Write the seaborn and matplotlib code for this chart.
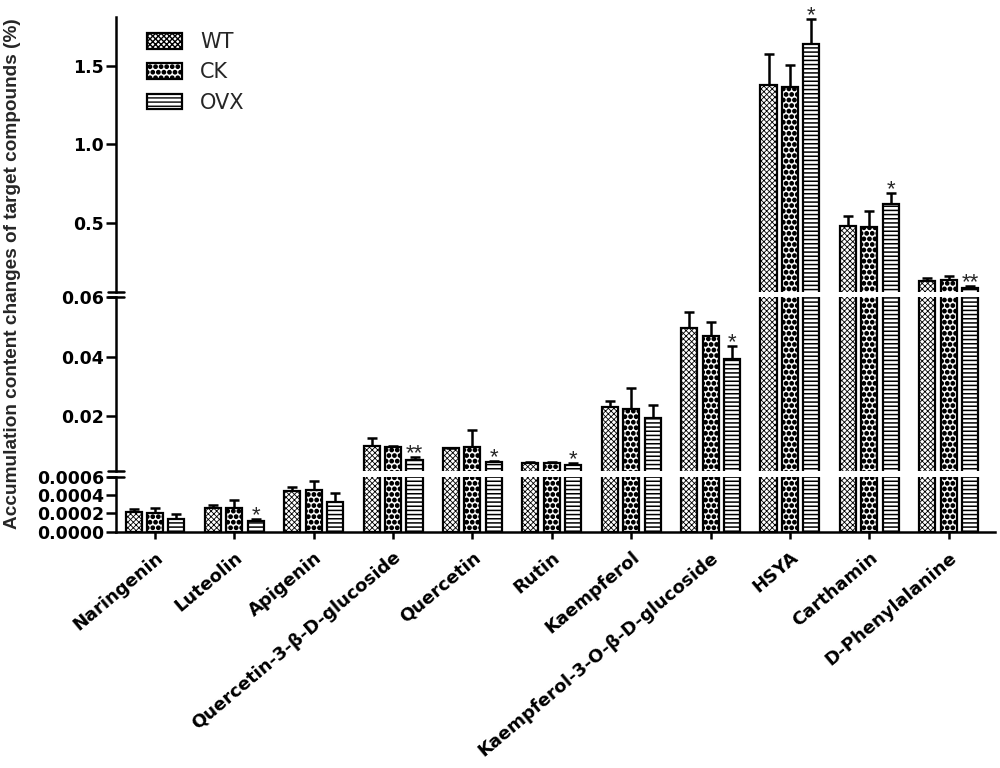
import numpy as np
import pandas as pd
import seaborn as sns
import matplotlib
import matplotlib.pyplot as plt
from matplotlib.patches import Patch
from matplotlib.lines import Line2D

# data (mean and upper error per group)
compounds = ["Naringenin", "Luteolin", "Apigenin", "Quercetin-3-β-D-glucoside",
             "Quercetin", "Rutin", "Kaempferol", "Kaempferol-3-O-β-D-glucoside",
             "HSYA", "Carthamin", "D-Phenylalanine"]
groups = ["WT", "CK", "OVX"]

wt_mean = [0.000212, 0.000262, 0.000447, 0.0100, 0.0091, 0.0043, 0.0232, 0.0496, 1.378, 0.481, 0.126]
wt_err = [0.000036, 0.000026, 0.000037, 0.0025, 0.0002, 0.0003, 0.0020, 0.0054, 0.197, 0.062, 0.021]
ck_mean = [0.000200, 0.000255, 0.000455, 0.0095, 0.0095, 0.0043, 0.0225, 0.0470, 1.367, 0.470, 0.133]
ck_err = [0.000062, 0.000091, 0.000101, 0.0004, 0.0058, 0.0003, 0.0069, 0.0048, 0.139, 0.105, 0.027]
ovx_mean = [0.000139, 0.000120, 0.000327, 0.0052, 0.0046, 0.0035, 0.0194, 0.0391, 1.639, 0.617, 0.083]
ovx_err = [0.000051, 0.000015, 0.000098, 0.0011, 0.0004, 0.0006, 0.0042, 0.0046, 0.156, 0.071, 0.011]
ovx_stars = ["", "*", "", "**", "*", "*", "", "*", "*", "*", "**"]

# y segments of the broken axis
limits = [(0.06, 1.81), (0.0015, 0.06), (0, 0.0006)]
yticks = [[0.5, 1.0, 1.5], [0.02, 0.04, 0.06], [0, 0.0002, 0.0004, 0.0006]]
yticklabels = [["0.5", "1.0", "1.5"], ["0.02", "0.04", "0.06"],
               ["0.0000", "0.0002", "0.0004", "0.0006"]]

sns.set_theme(style="ticks")
plt.rcParams["font.family"] = ["DejaVu Sans"]
plt.rcParams["hatch.color"] = "black"
# bigger filled dots so '.' looks like the checker fill
matplotlib.hatch.SmallFilledCircles.size = 0.3

means = {"WT": wt_mean, "CK": ck_mean, "OVX": ovx_mean}
errs = {"WT": wt_err, "CK": ck_err, "OVX": ovx_err}
hatches = {"WT": "xxxxxx", "CK": "...", "OVX": "----"}
hatch_lw = {"WT": 0.6, "CK": 1.0, "OVX": 1.1}

df = pd.DataFrame({
    "compound": compounds * 3,
    "group": np.repeat(groups, len(compounds)),
    "value": wt_mean + ck_mean + ovx_mean,
})


def style_patch(p, g):
    p.set_hatch(hatches[g])
    if hasattr(p, "set_hatch_linewidth"):
        p.set_hatch_linewidth(hatch_lw[g])


fig = plt.figure(figsize=(10, 7.68), dpi=100)
x0, w = 0.1157, 0.879
ax_top = fig.add_axes([x0, 0.6202, w, 0.3577])
ax_mid = fig.add_axes([x0, 0.3867, w, 0.2262])
ax_bot = fig.add_axes([x0, 0.3077, w, 0.0716])
axes = [ax_top, ax_mid, ax_bot]

for i, ax in enumerate(axes):
    lo, hi = limits[i]
    sns.barplot(data=df, x="compound", y="value", hue="group", order=compounds,
                hue_order=groups, palette=["white"] * 3, saturation=1, width=0.81,
                gap=0.25, errorbar=None, edgecolor="black", linewidth=1.6,
                legend=False, ax=ax)
    for cont, g in zip(ax.containers, groups):
        xs = [b.get_x() + b.get_width() / 2 for b in cont]
        for b in cont:
            style_patch(b, g)
            # bars that end below this segment would leave an edge line at the break
            if b.get_height() < lo:
                b.set_visible(False)
        m = np.array(means[g])
        e = np.array(errs[g])
        # skip error bars that end below this segment
        m_seg = np.where(m + e > lo, m, np.nan)
        eb = ax.errorbar(xs, m_seg, yerr=[np.zeros(len(xs)), e], fmt="none",
                         ecolor="black", elinewidth=1.8, capsize=3.6, capthick=1.8, zorder=3)
        # only the upper cap is shown
        for cap in eb.lines[1]:
            yd = np.asarray(cap.get_ydata(), dtype=float)
            if yd.shape == m_seg.shape and np.allclose(yd, m_seg, equal_nan=True):
                cap.set_visible(False)
    ax.set_ylim(lo, hi)
    ax.set_xlim(-0.495, 10.58)
    ax.set_xlabel("")
    ax.set_ylabel("")
    ax.set_yticks(yticks[i])
    ax.set_yticklabels(yticklabels[i], fontweight="bold", fontsize=12.5)
    ax.tick_params(axis="y", length=7, width=1.8, pad=1.5, colors="black")
    for s in ["top", "right"]:
        ax.spines[s].set_visible(False)
    ax.spines["left"].set_linewidth(1.8)
    ax.spines["left"].set_color("black")
    if ax is not ax_bot:
        ax.spines["bottom"].set_visible(False)
        ax.tick_params(axis="x", bottom=False, labelbottom=False)
    ax.patch.set_alpha(0)

# significance stars over OVX bars
ovx_bars = [ax.containers[2] for ax in axes]
for j, s in enumerate(ovx_stars):
    if not s:
        continue
    top = ovx_mean[j] + ovx_err[j]
    k = 2 if top <= 0.0006 else (1 if top <= 0.06 else 0)
    b = ovx_bars[k][j]
    axes[k].annotate(s, (b.get_x() + b.get_width() / 2, top), xytext=(0, -1.5),
                     textcoords="offset points", ha="center", va="baseline",
                     fontsize=16, family="Liberation Sans", annotation_clip=False)

ax_bot.spines["bottom"].set_linewidth(1.8)
ax_bot.spines["bottom"].set_color("black")
ax_bot.set_xticks(range(len(compounds)))
ax_bot.set_xticklabels(compounds, rotation=40, ha="right", rotation_mode="anchor",
                       fontweight="bold", fontsize=13)
ax_bot.tick_params(axis="x", length=5, width=1.8, pad=7, colors="black")

# axis break marks
for y in [0.6202, 0.6129, 0.3867, 0.3793]:
    fig.add_artist(Line2D([x0 - 0.008, x0 + 0.008], [y, y], transform=fig.transFigure,
                          color="black", lw=1.8))

handles = []
for g in groups:
    p = Patch(facecolor="white", edgecolor="black", lw=1.6)
    style_patch(p, g)
    handles.append(p)
ax_top.legend(handles, groups, loc="upper left", bbox_to_anchor=(0.0356, 0.945),
              frameon=False, fontsize=15, borderpad=0, borderaxespad=0,
              handlelength=1.7, handleheight=0.78, handletextpad=0.85, labelspacing=0.5)

fig.text(0.0125, 0.644, "Accumulation content changes of target compounds (%)",
         rotation=90, ha="center", va="center", fontsize=13.7, fontweight="bold",
         family="Liberation Sans")

fig.savefig("out.png", dpi=100)
